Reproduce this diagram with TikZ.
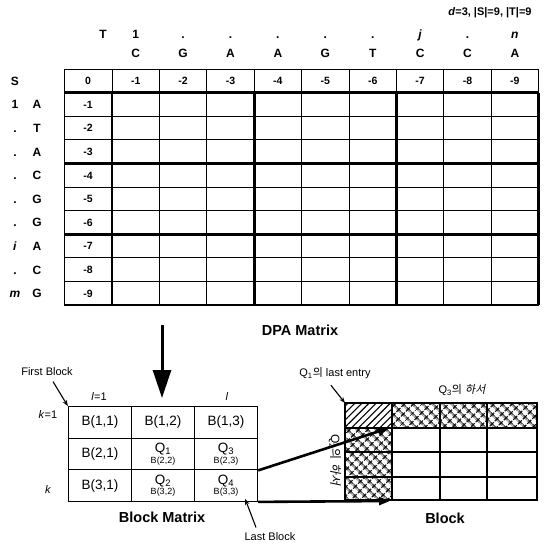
\documentclass[tikz,border=0pt]{standalone}
\usepackage{fontspec}
\setmainfont{Liberation Sans}
\newfontfamily\kofont{Noto Sans CJK KR}
\newfontfamily\kofontsl{Noto Sans CJK KR}[FakeSlant=0.2]
\usetikzlibrary{arrows.meta,patterns.meta}

\begin{document}
\begin{tikzpicture}[x=1pt, y=-1pt,
    cellnum/.style={font=\fontsize{10.5}{10.5}\selectfont\bfseries},
    seqlab/.style={font=\fontsize{12}{12}\selectfont\bfseries, text height=8.6pt, text depth=0pt},
    title/.style={font=\fontsize{14.5}{14.5}\selectfont\bfseries},
    note/.style={font=\fontsize{11}{11}\selectfont},
    bcell/.style={draw, line width=1.3pt, minimum width=63pt, minimum height=31.5pt, inner sep=0pt,
                  font=\fontsize{13.5}{13.5}\selectfont, align=center},
    thinline/.style={line width=0.9pt},
    thickline/.style={line width=2.6pt},
    hatchfill/.style={pattern={Hatch[angle=45,distance=6.5pt,line width=1.3pt]}},
    bigarrow/.style={line width=2.6pt, -{Triangle[length=11pt,width=8pt]}},
    ptr/.style={line width=1.1pt, -{Stealth[length=6pt,width=4.5pt]}}]
    \useasboundingbox (0,0) rectangle (544,546);

    % sizes of the problem
    \node[note, font=\fontsize{11}{11}\selectfont\bfseries] (info) at (490,13) {\textit{d}=3, |S|=9, |T|=9};

    % DPA matrix grid
    \foreach \r in {0,...,10}
        \draw[thinline] (64,{69+23.6*\r}) -- (539,{69+23.6*\r});
    \draw[thinline] (64,69) -- (64,305);
    \foreach \c in {0,...,9}
        \draw[thinline] ({112+47.4*\c},69) -- ({112+47.4*\c},305);
    \foreach \r in {1,4,7,10}
        \draw[thickline] (64,{69+23.6*\r}) -- (539,{69+23.6*\r});
    \foreach \c in {0,3,6,9}
        \draw[thickline] ({112+47.4*\c},92.6) -- ({112+47.4*\c},305);

    % first row and first column
    \node[cellnum] (h0) at (88,81) {0};
    \foreach \c in {1,...,9}{
        \node[cellnum] (h\c) at ({112+47.4*(\c-0.5)},81) {-\c};
        \node[cellnum] (v\c) at (88,{81+23.6*\c}) {-\c};
    }

    % sequence T
    \node[seqlab] (tname) at (103,34) {T};
    \foreach \ch [count=\c] in {C,G,A,A,G,T,C,C,A}
        \node[seqlab] (tch\c) at ({112+47.4*(\c-0.5)},53) {\ch};
    \foreach \ix [count=\c] in {1,.,.,.,.,.,\textit{j},.,\textit{n}}
        \node[seqlab] (tix\c) at ({112+47.4*(\c-0.5)},34) {\ix};

    % sequence S
    \node[seqlab] (sname) at (15,81) {S};
    \foreach \ch [count=\r] in {A,T,A,C,G,G,A,C,G}
        \node[seqlab] (sch\r) at (37,{81+23.6*\r}) {\ch};
    \foreach \ix [count=\r] in {1,.,.,.,.,.,\textit{i},.,\textit{m}}
        \node[seqlab] (six\r) at (15,{81+23.6*\r}) {\ix};

    \node[title] (dpa) at (300,330) {DPA Matrix};

    % DPA matrix -> block matrix
    \coordinate (dpa-out) at (162,325);
    \coordinate (bm-in) at (162,398);
    \draw[line width=3pt, -{Triangle[length=28pt,width=18pt]}] (dpa-out) -- (bm-in);

    % Block matrix
    \node[bcell] (b11) at (100,422.5) {B(1,1)};
    \node[bcell] (b12) at (163,422.5) {B(1,2)};
    \node[bcell] (b13) at (226,422.5) {B(1,3)};
    \node[bcell] (b21) at (100,454) {B(2,1)};
    \node[bcell] (b22) at (163,454) {Q\textsubscript{1}\\[-3pt]{\fontsize{9}{9}\selectfont B(2,2)}};
    \node[bcell] (b23) at (226,454) {Q\textsubscript{3}\\[-3pt]{\fontsize{9}{9}\selectfont B(2,3)}};
    \node[bcell] (b31) at (100,485.5) {B(3,1)};
    \node[bcell] (b32) at (163,485.5) {Q\textsubscript{2}\\[-3pt]{\fontsize{9}{9}\selectfont B(3,2)}};
    \node[bcell] (b33) at (226,485.5) {Q\textsubscript{4}\\[-3pt]{\fontsize{9}{9}\selectfont B(3,3)}};

    \node[note] (l1) at (99,397) {\textit{l}=1};
    \node[note] (ll) at (227,397) {\textit{l}};
    \node[note] (k1) at (48,415) {\textit{k}=1};
    \node[note] (kk) at (48,490) {\textit{k}};
    \node[title] (bm) at (162,517) {Block Matrix};

    \node[note] (first) at (47,372) {First Block};
    \draw[ptr] (first.south) ++(6,2) -- (b11.north west);
    \node[note] (last) at (270,537) {Last Block};
    \draw[ptr] (last.north) ++(-14,-2) -- ([xshift=-13pt,yshift=3pt]b33.south east);

    % Block with the borders taken from Q1, Q2, Q3
    \fill[pattern={Lines[angle=45,distance=5pt,line width=1.1pt]}] (345,403) rectangle (392,428);
    \fill[hatchfill] (392,403) rectangle (537,428);
    \fill[hatchfill] (345,428) rectangle (392,500);
    \draw[line width=1.3pt] (345,403) rectangle (537,500);
    \foreach \x in {392,440,487}
        \draw[line width=1.1pt] (\x,403) -- (\x,500);
    \foreach \y in {428,452,477}
        \draw[line width=1.1pt] (345,\y) -- (537,\y);
    \coordinate (blk-nw) at (392,428);
    \coordinate (blk-sw) at (392,500);
    \draw[line width=2.6pt] (blk-nw) rectangle (537,500);

    \node[note] (q1note) at (335,373) {Q\textsubscript{1}{\kofont 의} last entry};
    \draw[ptr] (q1note.south west) ++(35,3) -- (345,403);
    \node[note] (q3note) at (462,390) {Q\textsubscript{3}{\kofont 의} {\kofontsl 하서}};
    \node[note, rotate=-90, font=\fontsize{12}{12}\selectfont] (q2note) at (335,460) {Q\textsubscript{2}{\kofont 의} {\kofontsl 하서}};
    \node[title] (blk) at (445,518) {Block};

    % borders of Q3 and Q4 go into the block
    \draw[bigarrow] (b23.south east) -- ([xshift=-3pt]blk-nw);
    \draw[bigarrow] (b33.south east) -- ([xshift=-2pt,yshift=-1pt]blk-sw);
\end{tikzpicture}
\end{document}
